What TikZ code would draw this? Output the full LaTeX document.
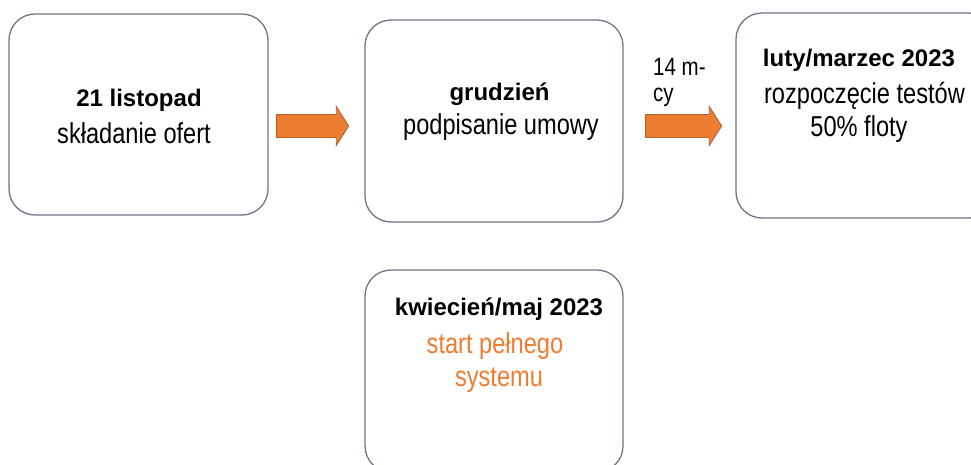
\documentclass[tikz,border=0pt]{standalone}
\usepackage{fontspec}
\setmainfont{Liberation Sans}
\newfontfamily\narrowfont[FakeStretch=0.82]{Liberation Sans}
\usetikzlibrary{shapes.arrows}
\definecolor{boxline}{HTML}{6E7785}
\definecolor{orangefill}{HTML}{ED7D31}
\definecolor{orangeline}{HTML}{B8622A}
\tikzset{
  stagebox/.style={draw=boxline, line width=1.3pt, rounded corners=26pt, fill=white, inner sep=0pt},
  blockarrow/.style={single arrow, fill=orangefill, draw=orangeline, line width=0.9pt,
     inner xsep=0pt, inner ysep=11pt, single arrow head extend=8pt,
     single arrow tip angle=115, minimum width=38pt},
  boldline/.style={anchor=base, inner sep=0pt, font=\bfseries\fontsize{24pt}{24pt}\selectfont},
  plainline/.style={anchor=base, inner sep=0pt, font=\narrowfont\fontsize{28.8pt}{28pt}\selectfont},
  smallline/.style={anchor=base west, inner sep=0pt, font=\narrowfont\fontsize{25pt}{25pt}\selectfont}
}
\begin{document}
\begin{tikzpicture}[x=1pt,y=-1pt]
\useasboundingbox (0,0) rectangle (971,464);
\fill[white] (0,0) rectangle (971,464);
% boxes
\node[stagebox, minimum width=259pt, minimum height=201pt] (b1) at (138.5,114.5) {};
\node[stagebox, minimum width=258pt, minimum height=202pt] (b2) at (494,121) {};
\node[stagebox, minimum width=259pt, minimum height=205pt] (b3) at (865.5,115.5) {};
\node[stagebox, minimum width=258pt, minimum height=202pt] (b4) at (494,371) {};
% arrows
\node[blockarrow, minimum height=72pt] (a1) at (309,126) {};
\node[blockarrow, minimum height=76pt] (a2) at (680,126) {};
% texts box 1
\node[boldline] (t1a) at (139,106.7) {21 listopad};
\node[plainline] (t1b) at (134,143.3) {składanie ofert};
% box 2
\node[boldline] (t2a) at (499.5,100) {grudzień};
\node[plainline] (t2b) at (501,134.3) {podpisanie umowy};
% box 3
\node[boldline] (t3a) at (859,66.7) {luty/marzec 2023};
\node[plainline] (t3b) at (864.5,103) {rozpoczęcie testów};
\node[plainline] (t3c) at (859,136.7) {50\% floty};
% box 4
\node[boldline] (t4a) at (499,315) {kwiecień/maj 2023};
\node[plainline, text=orangefill] (t4b) at (495,353) {start pełnego};
\node[plainline, text=orangefill] (t4c) at (499,386) {systemu};
% label above arrow 2
\node[smallline] (l1) at (653,75) {14 m-};
\node[smallline] (l2) at (653,101) {cy};
\end{tikzpicture}
\end{document}
